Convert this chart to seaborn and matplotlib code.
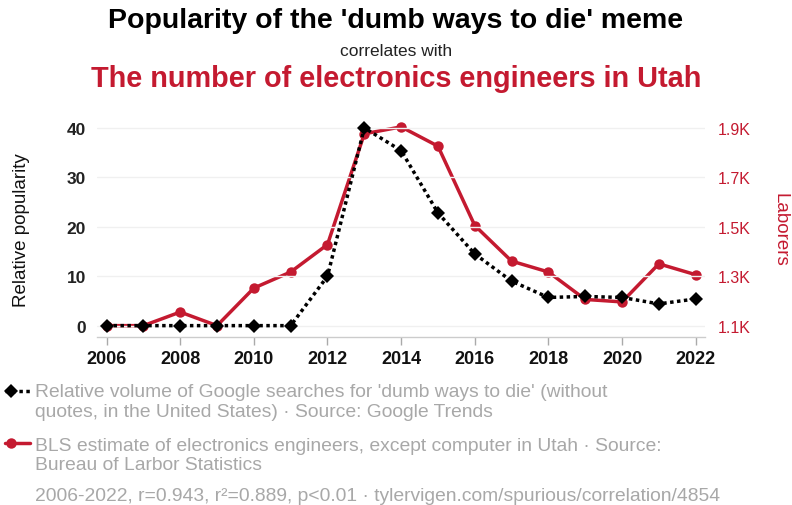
import matplotlib
matplotlib.use("Agg")
import matplotlib.pyplot as plt
import seaborn as sns
import pandas as pd
from matplotlib.lines import Line2D

years = list(range(2006, 2023))
searches = [0, 0, 0, 0, 0, 0, 10, 40, 35.4, 22.8, 14.5, 9.0, 5.7, 5.9, 5.7, 4.4, 5.4]
laborers = [1100, 1100, 1155, 1100, 1252, 1317, 1428, 1876, 1904, 1826, 1505, 1361, 1317, 1206, 1196, 1350, 1306]
left_ticks = [0, 10, 20, 30, 40]
right_ticks = [1100, 1300, 1500, 1700, 1900]
right_labels = ["1.1K", "1.3K", "1.5K", "1.7K", "1.9K"]
x_ticks = list(range(2006, 2023, 2))

RED = "#c41a30"
GRAY = "#a8a8a8"

sns.set_theme(style="white")
plt.rcParams['font.family'] = ['Liberation Sans', 'DejaVu Sans']

df = pd.DataFrame({"year": years, "searches": searches, "laborers": laborers})

fig = plt.figure(figsize=(7.92, 5.06), dpi=100)
ax = fig.add_axes([0.1225, 0.332, 0.7675, 0.428])
ax2 = ax.twinx()

sns.lineplot(data=df, x="year", y="laborers", ax=ax2, color=RED, linewidth=2.5,
             marker="o", markersize=7.5, markeredgewidth=0)
sns.lineplot(data=df, x="year", y="searches", ax=ax, color="black", linewidth=2.5,
             linestyle=(0, (1, 1)), marker="D", markersize=7, markeredgewidth=0)

ax.set_zorder(ax2.get_zorder() + 1)
ax.patch.set_visible(False)

ylo, yhi = -2.3, 41.5
ax.set_ylim(ylo, yhi)
ax2.set_ylim(1100 + 20 * ylo, 1100 + 20 * yhi)
ax.set_xlim(2005.74, 2022.25)

ax.set_yticks(left_ticks)
ax.set_yticklabels([str(t) for t in left_ticks], fontsize=12.5, color="#222222", fontweight="bold")
ax2.set_yticks(right_ticks)
ax2.set_yticklabels(right_labels, fontsize=11.5, color=RED)
ax.set_xticks(x_ticks)
ax.set_xticklabels([str(t) for t in x_ticks], fontsize=13, color="#111111", fontweight="bold")

ax.tick_params(axis="x", length=6, width=1, color="#aaaaaa", pad=3, bottom=True)
ax.tick_params(axis="y", length=0, pad=8)
ax2.tick_params(axis="y", length=0, pad=9)

ax.yaxis.grid(True, color="#f0f0f0", linewidth=1)
ax.xaxis.grid(False)
for a in (ax, ax2):
    for s in ["top", "left", "right"]:
        a.spines[s].set_visible(False)
    a.spines["bottom"].set_color("#cccccc")
    a.spines["bottom"].set_linewidth(1)
ax2.spines["bottom"].set_visible(False)

ax.set_xlabel("")
ax.set_ylabel("Relative popularity", fontsize=13.5, color="#111111", va="center")
ax.yaxis.set_label_coords(-0.124, 0.5)
ax2.set_ylabel("Laborers", fontsize=13.5, color=RED, rotation=270, va="center")
ax2.yaxis.set_label_coords(1.124, 0.5)

fig.text(0.5, 0.958, "Popularity of the 'dumb ways to die' meme", ha="center", va="center",
         fontsize=20.5, fontweight="bold", color="black")
fig.text(0.5, 0.899, "correlates with", ha="center", va="center", fontsize=12.5, color="#222222")
fig.text(0.5, 0.843, "The number of electronics engineers in Utah", ha="center", va="center",
         fontsize=20.8, fontweight="bold", color=RED)

# legend keys
W, H = 792.0, 506.0
k1 = Line2D([5 / W, 30 / W], [1 - 391.5 / H] * 2, transform=fig.transFigure, color="black",
            linewidth=2.5, linestyle=(0, (1, 1)))
k1m = Line2D([11 / W], [1 - 391.5 / H], transform=fig.transFigure, color="black",
             marker="D", markersize=7, markeredgewidth=0, linestyle="none")
k2 = Line2D([5 / W, 30 / W], [1 - 443.5 / H] * 2, transform=fig.transFigure, color=RED,
            linewidth=2.5)
k2m = Line2D([11 / W], [1 - 443.5 / H], transform=fig.transFigure, color=RED,
             marker="o", markersize=7.5, markeredgewidth=0, linestyle="none")
for k in (k1, k1m, k2, k2m):
    fig.add_artist(k)

legend_lines = [
    ("Relative volume of Google searches for 'dumb ways to die' (without", 397.5),
    ("quotes, in the United States) · Source: Google Trends", 417.0),
    ("BLS estimate of electronics engineers, except computer in Utah · Source:", 451.5),
    ("Bureau of Larbor Statistics", 470.5),
    ("2006-2022, r=0.943, r²=0.889, p<0.01 · tylervigen.com/spurious/correlation/4854", 501.5),
]
for txt, yb in legend_lines:
    fig.text(35 / W, 1 - yb / H, txt, ha="left", va="baseline", fontsize=13.9, color=GRAY)

fig.savefig("out.png", dpi=100, facecolor="white")
